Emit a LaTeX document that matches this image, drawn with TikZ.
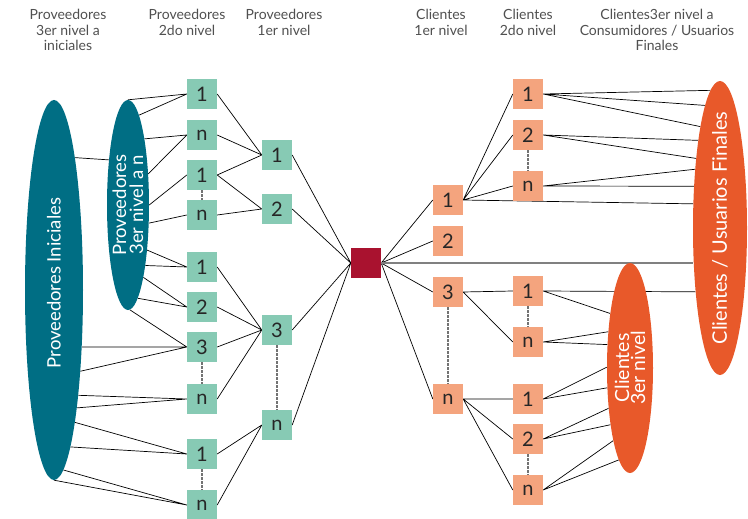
\documentclass[tikz,border=0pt]{standalone}
\usepackage{fontspec}
\setmainfont{Lato}
\usepackage{tikz}
\usetikzlibrary{shapes.geometric,backgrounds}
\definecolor{provteal}{HTML}{006E84}
\definecolor{provgreen}{HTML}{87CAB4}
\definecolor{clientorange}{HTML}{F4A47E}
\definecolor{clientdeep}{HTML}{E8592A}
\definecolor{hubred}{HTML}{A9122F}
\definecolor{headgray}{HTML}{505050}

\begin{document}
\begin{tikzpicture}[x=1pt, y=-1pt,
    every node/.style={font=\fontsize{14}{15.5}\selectfont, align=center},
    head/.style={text=headgray, anchor=north, inner sep=0pt},
    gbox/.style={fill=provgreen, minimum size=30pt, inner sep=0pt, text=black!85, font=\fontsize{20}{20}\selectfont},
    obox/.style={fill=clientorange, minimum size=30pt, inner sep=0pt, text=black!85, font=\fontsize{20}{20}\selectfont},
    blob/.style={ellipse, inner sep=0pt},
    blobtext/.style={rotate=90, text=white, font=\fontsize{18.5}{17}\selectfont},
    link/.style={line width=0.7pt},
    dots/.style={draw=black!55, line width=1.1pt, dash pattern=on 2.5pt off 1.5pt}]
    \path[use as bounding box] (0,0) rectangle (748,519);

    \node[head] (h1) at (68,9) {Proveedores\\3er nivel a\\iniciales};
    \node[head] (h2) at (187,9) {Proveedores\\2do nivel};
    \node[head] (h3) at (284,9) {Proveedores\\1er nivel};
    \node[head] (h4) at (441,9) {Clientes\\1er nivel};
    \node[head] (h5) at (528,9) {Clientes\\2do nivel};
    \node[head] (h6) at (657,9) {Clientes3er nivel a\\Consumidores / Usuarios\\Finales};

    \node[blob, fill=provteal, minimum width=58pt, minimum height=380pt,
        label={[blobtext, xshift=7pt]center:Proveedores Iniciales}] (pini) at (54,290) {};
    \node[blob, fill=provteal, minimum width=42pt, minimum height=210pt,
        label={[blobtext]center:Proveedores\\3er nivel a n}] (p3n) at (128,205) {};
    \node[blob, fill=clientdeep, minimum width=54pt, minimum height=294pt,
        label={[blobtext, font=\fontsize{20}{17}\selectfont]center:Clientes / Usuarios Finales}] (cuf) at (720,228) {};
    \node[blob, fill=clientdeep, minimum width=46pt, minimum height=210pt,
        label={[blobtext, font=\fontsize{19.5}{16}\selectfont]center:Clientes\\3er nivel}] (c3n) at (630,368) {};

    \node[gbox] (p2a) at (202,94) {1};
    \node[gbox] (p2b) at (202,135) {n};
    \node[gbox] (p2c) at (202,175) {1};
    \node[gbox] (p2d) at (202,215) {n};
    \node[gbox] (p2e) at (202,267) {1};
    \node[gbox] (p2f) at (202,307) {2};
    \node[gbox] (p2g) at (202,347) {3};
    \node[gbox] (p2h) at (202,399) {n};
    \node[gbox] (p2i) at (202,454) {1};
    \node[gbox] (p2j) at (202,505) {n};

    \node[gbox] (p1a) at (277,155) {1};
    \node[gbox] (p1b) at (277,209) {2};
    \node[gbox] (p1c) at (277,330) {3};
    \node[gbox] (p1d) at (277,425) {n};

    \node[fill=hubred, minimum size=30pt, inner sep=0pt] (hub) at (366,263) {};

    \node[obox] (c1a) at (448,200) {1};
    \node[obox] (c1b) at (448,241) {2};
    \node[obox] (c1c) at (448,292) {3};
    \node[obox] (c1d) at (448,399) {n};

    \node[obox] (c2a) at (528,94) {1};
    \node[obox] (c2b) at (528,135) {2};
    \node[obox] (c2c) at (528,186) {n};
    \node[obox] (c2d) at (528,291) {1};
    \node[obox] (c2e) at (528,342) {n};
    \node[obox] (c2f) at (528,399) {1};
    \node[obox] (c2g) at (528,439) {2};
    \node[obox] (c2h) at (528,490) {n};

    \begin{scope}[on background layer]
        \fill[white] (0,0) rectangle (748,519);
        \draw[link] (pini.81) -- (p3n.113);
        \draw[link] (p3n.90) -- (p2a.west) (p3n.83) -- (p2a.west);
        \draw[link] (p3n.76) -- (p2b.west) (p3n.57) -- (p2b.west);
        \draw[link] (p3n.0) -- (p2c.west);
        \draw[link] (p3n.-41) -- (p2d.west);
        \draw[link] (p3n.-67) -- (p2e.west) (p3n.-74) -- (p2e.west);
        \draw[link] (p3n.-78) -- (p2f.west) (p3n.-84) -- (p2f.west);
        \draw[link] (p3n.-89) -- (p2g.west) (pini.-64) -- (p2g.west) (pini.-72) -- (p2g.west);
        \draw[link] (pini.-77) -- (p2h.west) (pini.-79) -- (p2h.west);
        \draw[link] (pini.-81) -- (p2i.west) (pini.-84) -- (p2i.west);
        \draw[link] (pini.-87) -- (p2j.west) (pini.-90) -- (p2j.west);

        \draw[link] (p2a.east) -- (p1a.west) (p2b.east) -- (p1a.west) (p2c.east) -- (p1a.west);
        \draw[link] (p2c.east) -- (p1b.west) (p2d.east) -- (p1b.west);
        \draw[link] (p2e.east) -- (p1c.west) (p2f.east) -- (p1c.west) (p2g.east) -- (p1c.west) (p2h.east) -- (p1c.west);
        \draw[link] (p2i.east) -- (p1d.west) (p2j.east) -- (p1d.west);
        \draw[link] (p1a.east) -- (hub.west) (p1b.east) -- (hub.west) (p1c.east) -- (hub.west) (p1d.east) -- (hub.west);

        \draw[link] (hub.east) -- (c1a.west) (hub.east) -- (c1b.west) (hub.east) -- (c1c.west) (hub.east) -- (c1d.west);
        \draw[draw=gray, line width=1.3pt] (hub.east) -- (hub.east -| cuf.west);

        \draw[link] (c1a.east) -- (c2a.west) (c1a.east) -- (c2b.west) (c1a.east) -- (c2c.west) (c1a.east) -- (cuf.138);
        \draw[link] (c1c.east) -- (c2d.west) (c1c.east) -- (c2e.west);
        \draw[link] (c1d.east) -- (c2f.west) (c1d.east) -- (c2g.west) (c1d.east) -- (c2h.west);

        \draw[link] (c2a.east) -- (cuf.94) (c2a.east) -- (cuf.97) (c2a.east) -- (cuf.101);
        \draw[link] (c2b.east) -- (cuf.104) (c2b.east) -- (cuf.109);
        \draw[link] (c2c.east) -- (cuf.113) (c2c.east) -- (cuf.122);
        \draw[link] (c2d.east) -- (cuf.-111) (c2d.east) -- (c3n.110);
        \draw[link] (c2e.east) -- (c3n.121) (c2e.east) -- (c3n.134);
        \draw[link] (c2f.east) -- (c3n.178) (c2f.east) -- (c3n.221);
        \draw[link] (c2g.east) -- (c3n.242) (c2g.east) -- (c3n.251);
        \draw[link] (c2h.east) -- (c3n.257) (c2h.east) -- (c3n.263);
    \end{scope}

    \draw[dots] (p2c.south) -- (p2d.north);
    \draw[dots] (p2g.south) -- (p2h.north);
    \draw[dots] (p2i.south) -- (p2j.north);
    \draw[dots] (p1c.south) -- (p1d.north);
    \draw[dots] (c1c.south) -- (c1d.north);
    \draw[dots] (c2b.south) -- (c2c.north);
    \draw[dots] (c2d.south) -- (c2e.north);
    \draw[dots] (c2g.south) -- (c2h.north);
\end{tikzpicture}
\end{document}
